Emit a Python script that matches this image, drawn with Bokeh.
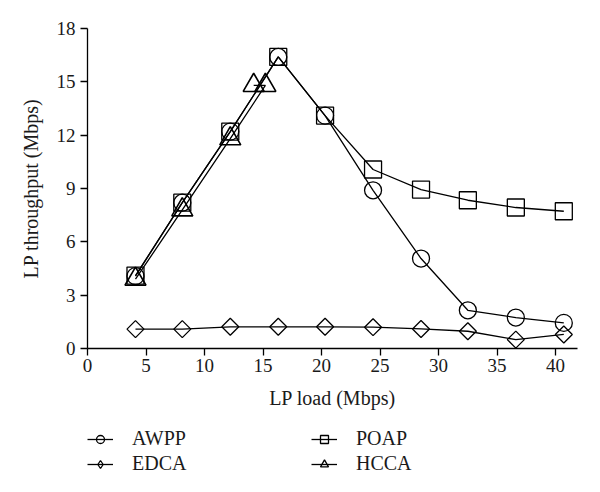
import numpy as np
from bokeh.plotting import figure
from bokeh.layouts import column
from bokeh.models import Legend, LegendItem, Range1d, FixedTicker
from bokeh.embed import file_html
from bokeh.resources import INLINE

# ---- data ----
load = [4.1, 8.1, 12.2, 16.3, 20.3, 24.4, 28.5, 32.5, 36.6, 40.7]
awpp = [4.07, 8.2, 12.2, 16.4, 13.1, 8.9, 5.06, 2.15, 1.74, 1.44]
poap = [4.1, 8.2, 12.2, 16.4, 13.1, 10.07, 8.94, 8.34, 7.93, 7.72]
edca = [1.09, 1.09, 1.22, 1.22, 1.22, 1.2, 1.1, 0.97, 0.5, 0.79]
hcca_load = [4.1, 8.1, 12.2, 15.2, 14.2]
hcca = [3.9, 7.8, 11.8, 14.8, 14.8]
x_ticks = [0, 5, 10, 15, 20, 25, 30, 35, 40]
y_ticks = [0, 3, 6, 9, 12, 15, 18]
series_names = ["AWPP", "POAP", "EDCA", "HCCA"]

FONT = "Liberation Serif"
TXT = "#1a1a1a"

p = figure(width=600, height=420, output_backend="svg", toolbar_location=None,
           x_range=Range1d(0, 41.87), y_range=Range1d(0, 18),
           min_border_left=87, min_border_right=23, min_border_top=28,
           min_border_bottom=72)
p.outline_line_color = None
p.xgrid.visible = False
p.ygrid.visible = False

for ax in (p.xaxis[0], p.yaxis[0]):
    ax.axis_line_color = "black"
    ax.axis_line_width = 1.3
    ax.major_tick_line_color = "black"
    ax.major_tick_line_width = 1.3
    ax.major_tick_in = 0
    ax.major_tick_out = 7
    ax.minor_tick_line_color = None
    ax.major_label_text_font = FONT
    ax.major_label_text_font_size = "19px"
    ax.major_label_text_color = TXT
    ax.axis_label_text_font = FONT
    ax.axis_label_text_font_size = "20px"
    ax.axis_label_text_font_style = "normal"
    ax.axis_label_text_color = TXT

p.xaxis.ticker = FixedTicker(ticks=x_ticks)
p.yaxis.ticker = FixedTicker(ticks=y_ticks)
p.xaxis.axis_label = "LP load (Mbps)"
p.yaxis.axis_label = "LP throughput (Mbps)"
p.xaxis.major_label_standoff = 3
p.xaxis.axis_label_standoff = 12
p.yaxis.major_label_standoff = 5
p.yaxis.axis_label_standoff = 12

LW = 1.3
style = dict(line_color="black", fill_alpha=0)

series = {
    "AWPP": (load, awpp, "circle"),
    "POAP": (load, poap, "square"),
    "EDCA": (load, edca, "diamond"),
    "HCCA": (hcca_load, hcca, "triangle"),
}

# HCCA
p.line(hcca_load, hcca, line_color="black", line_width=LW)
p.scatter(hcca_load, hcca, marker="triangle", size=21, line_width=1.6, **style)
# EDCA
p.line(load, edca, line_color="black", line_width=LW)
p.scatter(load, edca, marker="square", angle=np.pi / 4, size=12, line_width=LW, **style)
# POAP
p.line(load, poap, line_color="black", line_width=LW)
p.scatter(load, poap, marker="square", size=17, line_width=LW, **style)
# AWPP
p.line(load, awpp, line_color="black", line_width=LW)
p.scatter(load, awpp, marker="circle", size=17, line_width=LW, **style)

# ---- legend strip (separate figure so the legend is not clipped by the frame);
#      its ranges are far from the data, so only the legend shows ----
q = figure(width=600, height=72, output_backend="svg", toolbar_location=None,
           x_range=Range1d(1000, 1001), y_range=Range1d(1000, 1001),
           x_axis_location=None, y_axis_location=None,
           min_border_left=0, min_border_right=0, min_border_top=0,
           min_border_bottom=0)
q.outline_line_color = None
q.xgrid.visible = False
q.ygrid.visible = False

items = []
for name in series_names:
    xs, ys, mk = series[name]
    lr = q.line(xs, ys, line_color="black", line_width=LW)
    mr = q.scatter(xs, ys, marker=mk, size=10, line_width=LW, **style)
    items.append(LegendItem(label=name, renderers=[lr, mr]))

legend = Legend(items=items, location=(0, 17), orientation="horizontal", ncols=2)
legend.padding = 0
legend.margin = 0
legend.border_line_color = None
legend.background_fill_alpha = 0
legend.label_text_font = FONT
legend.label_text_font_size = "20px"
legend.label_text_color = TXT
legend.glyph_width = 26
legend.glyph_height = 20
legend.label_standoff = 19
legend.spacing = 2
legend.label_width = 177
legend.label_height = 20
q.add_layout(legend, "center")

layout = column(p, q, spacing=0)
open("out.html", "w").write(file_html(layout, INLINE))
